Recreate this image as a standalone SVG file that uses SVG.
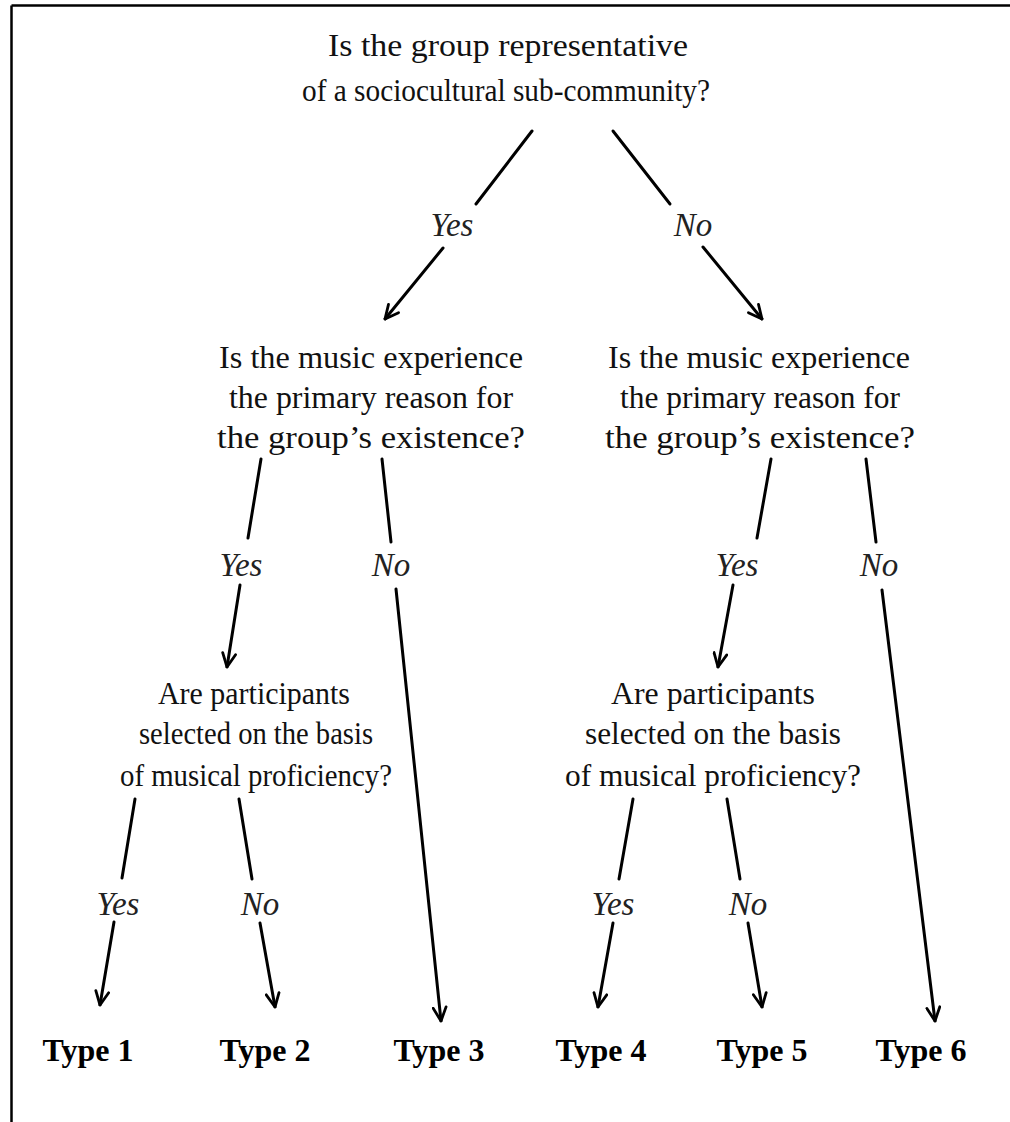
<svg xmlns="http://www.w3.org/2000/svg" width="1010" height="1122" viewBox="0 0 1010 1122">
<style>
  .q { font-family: "Liberation Serif", "Times New Roman", serif; font-size: 32px; fill: #111; text-anchor: middle; }
  .lbl { font-family: "Liberation Serif", "Times New Roman", serif; font-size: 33px; font-style: italic; fill: #222; text-anchor: middle; }
  .t { font-family: "Liberation Serif", "Times New Roman", serif; font-size: 32px; font-weight: bold; fill: #000; text-anchor: middle; }
  .ln { stroke: #000; stroke-width: 3; fill: none; stroke-linecap: round; }
  .ar { stroke: #000; stroke-width: 3; fill: none; stroke-linecap: round; marker-end: url(#head); }
</style>
<defs>
  <marker id="head" viewBox="0 0 16 16" refX="15" refY="8" markerWidth="16" markerHeight="16" markerUnits="userSpaceOnUse" orient="auto">
    <path d="M1.5,1.5 L15,8 L1.5,14.5" fill="none" stroke="#000" stroke-width="2.8" stroke-linecap="round" stroke-linejoin="round"/>
  </marker>
</defs>
<rect width="1010" height="1122" fill="#fff"/>
<g id="frame">
  <line x1="11.5" y1="5.5" x2="1010" y2="5.5" stroke="#000" stroke-width="2.5"/>
  <line x1="11.5" y1="5.5" x2="11.5" y2="1122" stroke="#000" stroke-width="2.5"/>
</g>
<g id="q1">
  <text class="q" x="508" y="56" font-size="33" textLength="360" lengthAdjust="spacingAndGlyphs">Is the group representative</text>
  <text class="q" x="506" y="101" font-size="30.5" textLength="408" lengthAdjust="spacingAndGlyphs">of a sociocultural sub-community?</text>
</g>
<g id="q2-left">
  <text class="q" x="371" y="368" textLength="304" lengthAdjust="spacingAndGlyphs">Is the music experience</text>
  <text class="q" x="371" y="408" textLength="284" lengthAdjust="spacingAndGlyphs">the primary reason for</text>
  <text class="q" x="371" y="448" font-size="33" textLength="308" lengthAdjust="spacingAndGlyphs">the group’s existence?</text>
</g>
<g id="q2-right">
  <text class="q" x="759" y="368" textLength="302" lengthAdjust="spacingAndGlyphs">Is the music experience</text>
  <text class="q" x="760" y="408" textLength="280" lengthAdjust="spacingAndGlyphs">the primary reason for</text>
  <text class="q" x="760" y="448" font-size="33" textLength="310" lengthAdjust="spacingAndGlyphs">the group’s existence?</text>
</g>
<g id="q3-left">
  <text class="q" x="254" y="704" font-size="30" textLength="192" lengthAdjust="spacingAndGlyphs">Are participants</text>
  <text class="q" x="256" y="744" font-size="29.5" textLength="234" lengthAdjust="spacingAndGlyphs">selected on the basis</text>
  <text class="q" x="256" y="786" font-size="29.5" textLength="272" lengthAdjust="spacingAndGlyphs">of musical proficiency?</text>
</g>
<g id="q3-right">
  <text class="q" x="713" y="704" font-size="31.5" textLength="204" lengthAdjust="spacingAndGlyphs">Are participants</text>
  <text class="q" x="713" y="744" font-size="31.5" textLength="256" lengthAdjust="spacingAndGlyphs">selected on the basis</text>
  <text class="q" x="713" y="786" font-size="31.5" textLength="296" lengthAdjust="spacingAndGlyphs">of musical proficiency?</text>
</g>
<g id="type1"><text class="t" x="88" y="1061">Type 1</text></g>
<g id="type2"><text class="t" x="265" y="1061">Type 2</text></g>
<g id="type3"><text class="t" x="439" y="1061">Type 3</text></g>
<g id="type4"><text class="t" x="601" y="1061">Type 4</text></g>
<g id="type5"><text class="t" x="762" y="1061">Type 5</text></g>
<g id="type6"><text class="t" x="921" y="1061">Type 6</text></g>
<g id="connectors">
  <line class="ln" x1="532" y1="131" x2="476" y2="204"/>
  <text class="lbl" x="452" y="236">Yes</text>
  <line class="ar" x1="443" y1="248" x2="385" y2="319"/>

  <line class="ln" x1="613" y1="131" x2="670" y2="204"/>
  <text class="lbl" x="693" y="236">No</text>
  <line class="ar" x1="703" y1="247" x2="762" y2="319"/>

  <line class="ln" x1="261" y1="459" x2="248" y2="538"/>
  <text class="lbl" x="241" y="576">Yes</text>
  <line class="ar" x1="240" y1="585" x2="227" y2="667"/>

  <line class="ln" x1="382" y1="459" x2="391" y2="542"/>
  <text class="lbl" x="391" y="576">No</text>
  <line class="ar" x1="396" y1="589" x2="441" y2="1021"/>

  <line class="ln" x1="771" y1="459" x2="757" y2="538"/>
  <text class="lbl" x="737" y="576">Yes</text>
  <line class="ar" x1="733" y1="585" x2="718" y2="667"/>

  <line class="ln" x1="866" y1="459" x2="876" y2="542"/>
  <text class="lbl" x="879" y="576">No</text>
  <line class="ar" x1="882" y1="590" x2="935" y2="1021"/>

  <line class="ln" x1="135" y1="799" x2="122" y2="878"/>
  <text class="lbl" x="118" y="915">Yes</text>
  <line class="ar" x1="114" y1="922" x2="100" y2="1005"/>

  <line class="ln" x1="239" y1="799" x2="252" y2="879"/>
  <text class="lbl" x="260" y="915">No</text>
  <line class="ar" x1="260" y1="923" x2="275" y2="1007"/>

  <line class="ln" x1="633" y1="799" x2="619" y2="879"/>
  <text class="lbl" x="613" y="915">Yes</text>
  <line class="ar" x1="613" y1="923" x2="598" y2="1007"/>

  <line class="ln" x1="727" y1="799" x2="740" y2="879"/>
  <text class="lbl" x="748" y="915">No</text>
  <line class="ar" x1="748" y1="923" x2="762" y2="1007"/>
</g>
</svg>
